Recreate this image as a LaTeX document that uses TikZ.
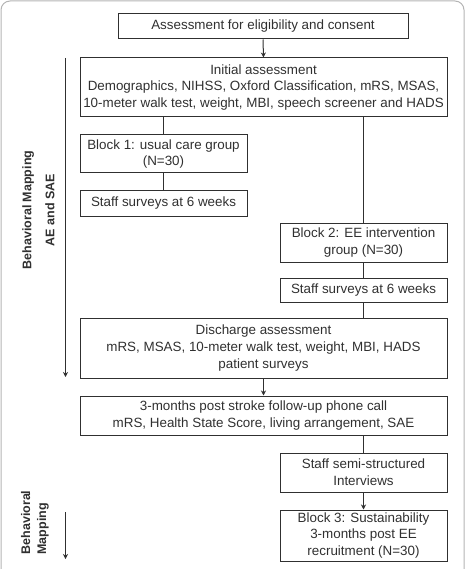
\documentclass[tikz,border=0pt]{standalone}
\usepackage{fontspec}
\setmainfont{Liberation Sans}
\usepackage{tikz}
\usetikzlibrary{positioning}
\usetikzlibrary{arrows.meta}
\definecolor{ink}{HTML}{303030}
\definecolor{frame}{HTML}{B4B4B4}

\begin{document}
\begin{tikzpicture}[
		x=1pt, y=-1pt,
		box/.style={draw=ink, line width=1pt, text=ink, align=center, inner sep=0pt,
			font=\fontsize{13.4}{16.7}\selectfont},
		wide/.style={box, minimum width=367pt},
		half/.style={box, minimum width=167pt},
		link/.style={draw=ink, line width=1pt},
		go/.style={link, -{Stealth[length=5pt,width=5pt]}},
		side/.style={text=ink, rotate=90, font=\bfseries\fontsize{12.5}{16}\selectfont}
	]
		\useasboundingbox (0,0) rectangle (465,569);
		\draw[frame, line width=1pt, rounded corners=9pt] (1,569) -- (1,1) -- (464,1) -- (464,569);

		% boxes
		\node[box, minimum width=290pt, minimum height=25pt] (consent) at (263,26.5)
			{Assessment for eligibility and consent};
		\node[wide, minimum height=59pt] (initial) at (263.5,87.5)
			{Initial assessment\\Demographics, NIHSS, Oxford Classification, mRS, MSAS,\\10-meter walk test, weight, MBI, speech screener and HADS};
		\node[half, minimum height=38pt] (block1) at (163.5,154)
			{Block 1: usual care group\\(N=30)};
		\node[half, minimum height=25pt] (staff1) at (163.5,203.5)
			{Staff surveys at 6 weeks};
		\node[half, minimum height=39pt] (block2) at (363.5,242.5)
			{Block 2: EE intervention\\group (N=30)};
		\node[half, minimum height=24pt] (staff2) at (363.5,290)
			{Staff surveys at 6 weeks};
		\node[wide, minimum height=60pt] (discharge) at (263.5,348)
			{Discharge assessment\\mRS, MSAS, 10-meter walk test, weight, MBI, HADS\\patient surveys};
		\node[wide, minimum height=39pt] (phone) at (263.5,415.5)
			{3-months post stroke follow-up phone call\\mRS, Health State Score, living arrangement, SAE};
		\node[half, minimum height=39pt] (interviews) at (363.5,472.5)
			{Staff semi-structured\\Interviews};
		\node[half, minimum height=51pt] (block3) at (363.5,535.5)
			{Block 3: Sustainability\\3-months post EE\\recruitment (N=30)};

		% connectors
		\draw[go] (consent.south) -- (initial.north);
		\draw[link] (initial.south -| block1.north) -- (block1.north);
		\draw[link] (block1.south) -- (staff1.north);
		\draw[link] (initial.south -| block2.north) -- (block2.north);
		\draw[link] (block2.south) -- (staff2.north);
		\draw[link] (staff2.south) -- (discharge.north -| staff2.south);
		\draw[go] (discharge.south) -- (phone.north);
		\draw[link] (phone.south -| interviews.north) -- (interviews.north);
		\draw[go] (interviews.south) -- (block3.north);

		% mapping arrows at the side
		\coordinate (mapA) at (65.5,58);
		\coordinate (mapB) at (65.5,377);
		\coordinate (mapC) at (65.5,512);
		\coordinate (mapD) at (65.5,559);
		\draw[go] (mapA) -- (mapB);
		\draw[go] (mapC) -- (mapD);
		\node[side, align=center, font=\bfseries\fontsize{12.5}{23}\selectfont] (mapping) at (38.5,210)
			{Behavioral Mapping\\AE and SAE};
		\node[side, align=left] (sustain) at (35,522.5)
			{Behavioral\\Mapping};
	\end{tikzpicture}
\end{document}
